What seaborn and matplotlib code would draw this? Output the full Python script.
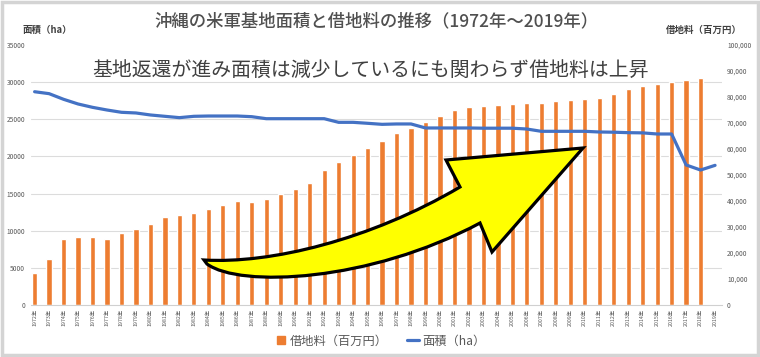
import numpy as np
import pandas as pd
import matplotlib
matplotlib.use("Agg")
import matplotlib.pyplot as plt
import matplotlib.transforms as mtransforms
from matplotlib.path import Path
from matplotlib.patches import PathPatch, Rectangle
from matplotlib.lines import Line2D
import seaborn as sns

# Data
years = list(range(1972, 2020))
year_labels = [f"{y}年" for y in years]

# land rent (million yen), no bar for 2019
rent = [12300, 17800, 25500, 26000, 26000, 25300, 27600, 29400, 31200, 33900,
        34500, 35500, 36800, 38400, 40000, 39500, 40700, 42700, 44700, 47000,
        51800, 55100, 57700, 60300, 63100, 66300, 68100, 70400, 72700, 75000,
        76300, 76500, 77000, 77400, 77700, 77600, 78400, 79000, 79100, 79700,
        81000, 83100, 84400, 84900, 85800, 86500, 87200, np.nan]

# base area (ha)
area = [28710, 28450, 27690, 27060, 26610, 26250, 25940, 25850, 25580, 25400,
        25220, 25400, 25440, 25440, 25440, 25350, 25080, 25080, 25080, 25080,
        25080, 24590, 24590, 24460, 24320, 24370, 24370, 23830, 23830, 23830,
        23830, 23800, 23800, 23800, 23690, 23380, 23380, 23380, 23380, 23290,
        23260, 23200, 23170, 23020, 23020, 18850, 18170, 18800]

ORANGE = "#ED7D31"
BLUE = "#4472C4"
GRAY = "#595959"

sns.set_theme(style="white")
plt.rcParams["font.family"] = ["Noto Sans CJK JP", "DejaVu Sans"]

W, H = 760, 357
fig = plt.figure(figsize=(W / 100, H / 100), dpi=100)
ax = fig.add_axes([30.7 / W, 1 - 305 / H, (722.3 - 30.7) / W, 260 / H])
ax2 = ax.twinx()

# Bars: land rent on the right-hand scale
df = pd.DataFrame({"label": year_labels, "rent": rent}).dropna()
sns.barplot(data=df, x="label", y="rent", order=year_labels, color=ORANGE,
            width=0.36, saturation=1, ax=ax)
ax.set_ylim(0, 100000)
ax.yaxis.tick_right()
ax.set_yticks(np.arange(0, 100001, 10000))
ax.set_yticklabels([f"{v:,}" for v in range(0, 100001, 10000)],
                   fontsize=4.8, color=GRAY)
# gridlines follow the left (area) scale
ax.set_yticks(np.arange(8) * 100000 / 7, minor=True)
ax.grid(False)
ax.grid(which="minor", axis="y", color="#DCDCDC", lw=0.8)
ax.set_axisbelow(True)
ax.tick_params(axis="y", which="both", length=0, pad=3.4)
ax.set_xticks(range(len(years)))
ax.set_xticklabels(year_labels, rotation=90, fontsize=3.8, color=GRAY)
ax.tick_params(axis="x", length=0, pad=3)
ax.set_xlabel("")
ax.set_ylabel("")
for s in ["top", "left", "right"]:
    ax.spines[s].set_visible(False)
ax.spines["bottom"].set_color("#D0D0D0")
ax.spines["bottom"].set_linewidth(0.8)

# Line: base area on the left-hand scale
sns.lineplot(x=np.arange(len(years)), y=area, color=BLUE, lw=2.3, ax=ax2)
ax2.set_ylim(0, 35000)
ax2.yaxis.tick_left()
ax2.set_yticks(np.arange(0, 35001, 5000))
ax2.set_yticklabels([str(v) for v in range(0, 35001, 5000)],
                    fontsize=4.8, color=GRAY)
ax2.tick_params(axis="y", length=0, pad=4)
ax2.grid(False)
ax2.set_xlabel("")
ax2.set_ylabel("")
for s in ax2.spines.values():
    s.set_visible(False)
ax.set_xlim(-0.27, 47.5)

# Titles and axis captions
fig.text(376 / W, 1 - 21 / H, "沖縄の米軍基地面積と借地料の推移（1972年～2019年）",
         ha="center", va="center", fontsize=12.5, color="#505050",
         weight="medium")
fig.text(92 / W, 1 - 70 / H, "基地返還が進み面積は減少しているにも関わらず借地料は上昇",
         ha="left", va="center", fontsize=14.3, color="#404040")
fig.text(47 / W, 1 - 30 / H, "面積（ha）", ha="center", va="center",
         fontsize=6.8, weight="bold", color="#404040")
fig.text(704 / W, 1 - 30 / H, "借地料（百万円）", ha="center", va="center",
         fontsize=6.8, weight="bold", color="#404040")

# Legend
handles = [Line2D([], [], marker="s", color=ORANGE, ls="none", ms=6),
           Line2D([], [], color=BLUE, lw=2.3)]
fig.legend(handles, ["借地料（百万円）", "面積（ha）"], loc="center",
           bbox_to_anchor=(380 / W, 1 - 341 / H), ncol=2, frameon=False,
           fontsize=8.8, handlelength=1.0, handletextpad=0.2,
           columnspacing=1.6, labelcolor=GRAY)

# Yellow curved arrow (figure pixel coords, origin top-left)
px = mtransforms.Affine2D().scale(1 / W, -1 / H).translate(0, 1) + fig.transFigure
verts = [(204, 260),
         (270, 264), (370, 240), (460, 187),
         (446, 160), (583, 148), (492, 252), (480, 223),
         (370, 282), (240, 288), (207, 264),
         (204, 260)]
codes = [Path.MOVETO,
         Path.CURVE4, Path.CURVE4, Path.CURVE4,
         Path.LINETO, Path.LINETO, Path.LINETO, Path.LINETO,
         Path.CURVE4, Path.CURVE4, Path.CURVE4,
         Path.CLOSEPOLY]
fig.add_artist(PathPatch(Path(verts, codes), facecolor="#FFFF00",
                         edgecolor="black", lw=2.3, joinstyle="miter",
                         transform=px, zorder=10))

# chart frame
fig.add_artist(Rectangle((0.003, 0.006), 0.994, 0.988, transform=fig.transFigure,
                         fill=False, edgecolor="#D4D4D4", lw=2.5))

fig.savefig("out.png", dpi=100)
